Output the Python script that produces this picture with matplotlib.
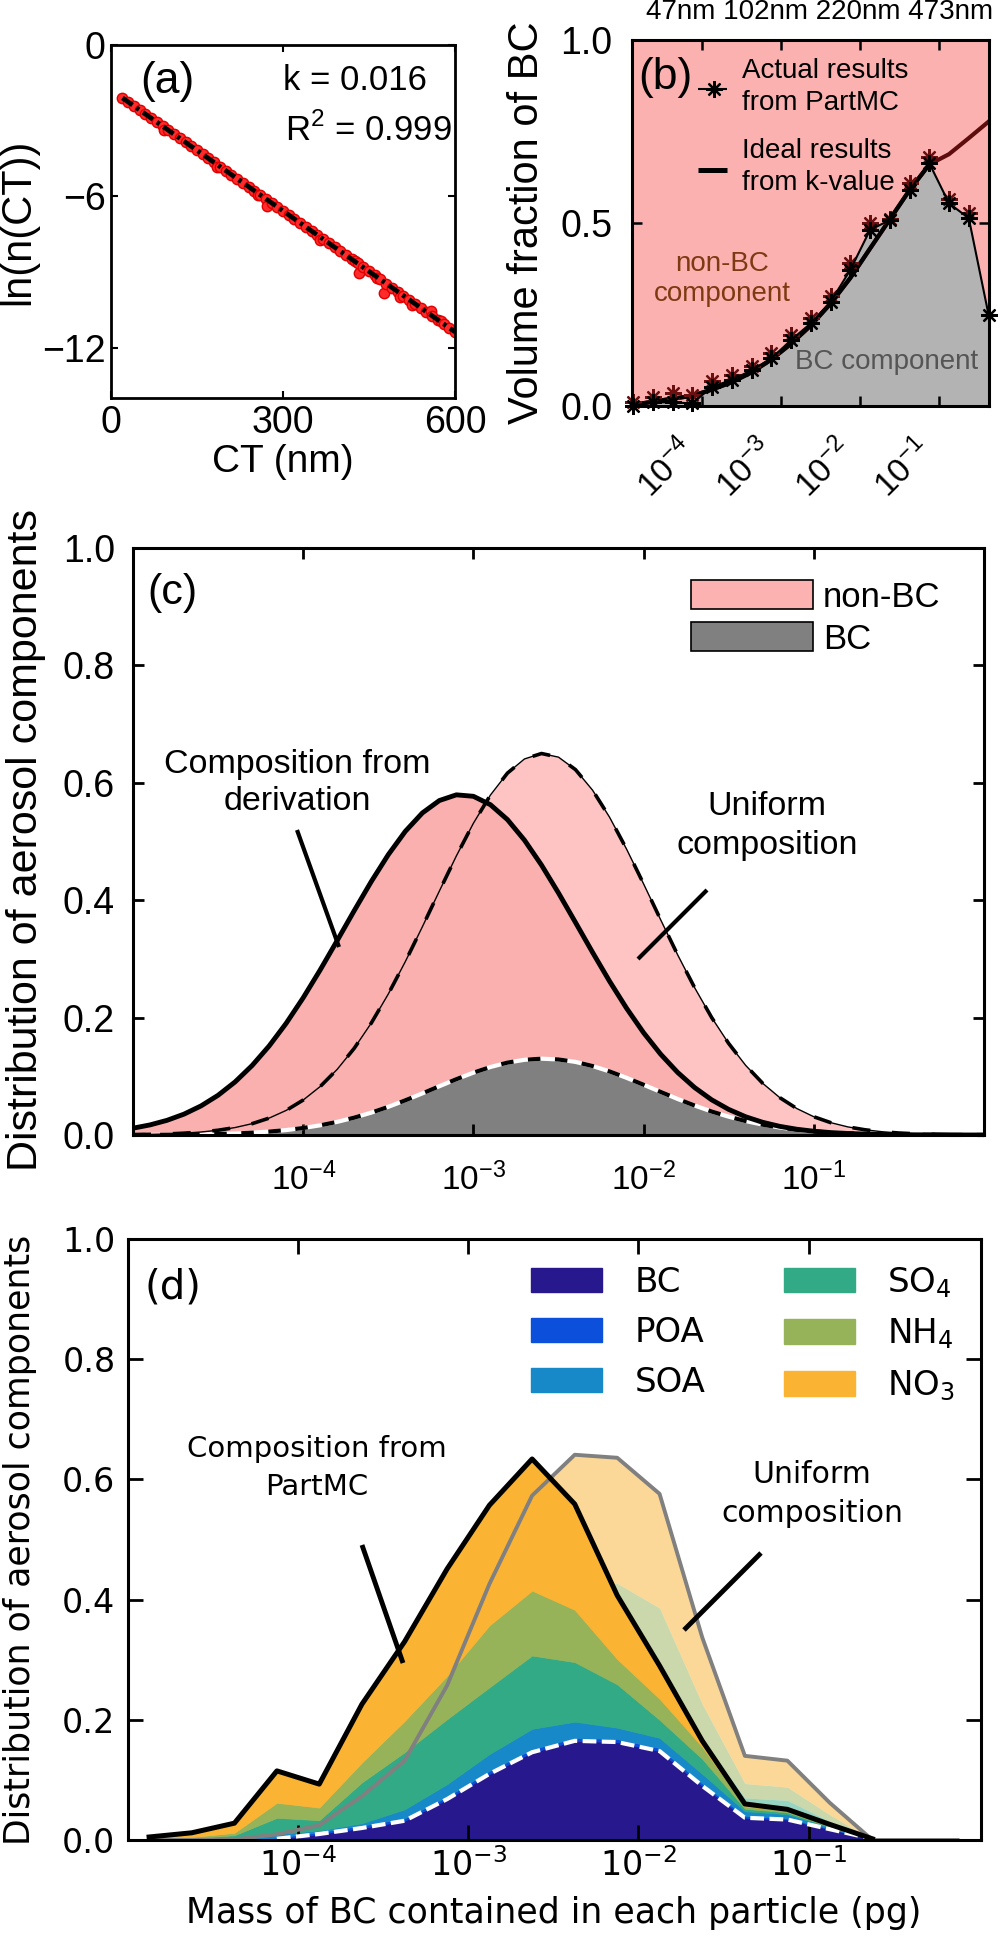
import numpy as np
import matplotlib
matplotlib.use("Agg")
import matplotlib.pyplot as plt
from matplotlib.lines import Line2D
from matplotlib.patches import Patch

plt.rcParams['font.family'] = ['Liberation Sans', 'DejaVu Sans']

W, H = 1004, 1936

# ---------------- (a) ln(n(CT)) vs CT ----------------
ct_nm = [20, 30, 40, 50, 60, 70, 80, 90, 92, 100, 110, 120, 130, 140, 150, 160, 170,
         180, 185, 190, 200, 210, 220, 230, 240, 250, 257, 260, 270, 272, 280, 290, 300,
         310, 320, 330, 340, 350, 360, 365, 370, 380, 390, 400, 410, 420, 425, 430, 433,
         440, 450, 460, 464, 470, 476, 480, 490, 500, 504, 510, 520, 525, 530, 540, 550,
         558, 560, 570, 575, 580, 590, 600]
ln_n = [-2.10, -2.26, -2.42, -2.58, -2.74, -2.90, -3.06, -3.22, -3.38, -3.38, -3.54,
        -3.70, -3.86, -4.02, -4.18, -4.34, -4.50, -4.66, -4.84, -4.82, -4.98, -5.14,
        -5.30, -5.46, -5.62, -5.78, -5.96, -5.94, -6.10, -6.38, -6.26, -6.42, -6.58,
        -6.74, -6.90, -7.06, -7.22, -7.38, -7.54, -7.74, -7.70, -7.86, -8.02, -8.18,
        -8.34, -8.50, -8.56, -8.66, -9.04, -8.82, -8.98, -9.14, -9.24, -9.30, -9.84,
        -9.46, -9.62, -9.78, -9.98, -9.94, -10.10, -10.32, -10.26, -10.42, -10.58,
        -10.54, -10.74, -10.90, -10.95, -11.06, -11.22, -11.38]
fit_ct = [20, 600]
fit_ln = [-2.10, -11.38]

# ---------------- (b)/(d) BC mass bins (pg) ----------------
mass_bins = [1.33e-5, 2.37e-5, 4.22e-5, 7.50e-5, 1.33e-4, 2.37e-4, 4.22e-4, 7.50e-4,
             1.33e-3, 2.37e-3, 4.22e-3, 7.50e-3, 1.33e-2, 2.37e-2, 4.22e-2, 7.50e-2,
             1.33e-1, 2.37e-1, 4.22e-1, 7.50e-1]

# (b) volume fraction of BC
vf_actual = [0.0, 0.010, 0.010, 0.007, 0.053, 0.071, 0.098, 0.130, 0.180, 0.226,
             0.285, 0.372, 0.481, 0.508, 0.590, 0.663, 0.554, 0.513, 0.249]
vf_actual_red = [0.010, 0.025, 0.035, 0.030, 0.068, 0.085, 0.110, 0.146, 0.195, 0.240,
                 0.300, 0.390, 0.500, 0.512, 0.610, 0.680, 0.566, 0.526]
vf_ideal = [0.003, 0.012, 0.020, 0.028, 0.045, 0.065, 0.092, 0.127, 0.170, 0.220,
            0.280, 0.350, 0.430, 0.510, 0.590, 0.660, 0.688, 0.732, 0.777]

# ---------------- (c) derived vs uniform ----------------
logm_c = [-5.0, -4.9, -4.8, -4.7, -4.6, -4.5, -4.4, -4.3, -4.2, -4.1,
          -4.0, -3.9, -3.8, -3.7, -3.6, -3.5, -3.4, -3.3, -3.2, -3.1,
          -3.0, -2.9, -2.8, -2.7, -2.6, -2.5, -2.4, -2.3, -2.2, -2.1,
          -2.0, -1.9, -1.8, -1.7, -1.6, -1.5, -1.4, -1.3, -1.2, -1.1,
          -1.0, -0.9, -0.8, -0.7, -0.6, -0.5, -0.4, -0.3, -0.2, -0.1, 0.0]
dist_derived = [0.0116, 0.0172, 0.0250, 0.0356, 0.0496, 0.0677, 0.0905, 0.1184, 0.1517, 0.1903,
                0.2338, 0.2813, 0.3314, 0.3823, 0.4318, 0.4776, 0.5173, 0.5486, 0.5698, 0.5795,
                0.5770, 0.5627, 0.5373, 0.5023, 0.4599, 0.4123, 0.3620, 0.3112, 0.2619, 0.2159,
                0.1742, 0.1377, 0.1066, 0.0808, 0.0599, 0.0436, 0.0310, 0.0216, 0.0147, 0.0098,
                0.0064, 0.0041, 0.0026, 0.0016, 0.0009, 0.0005, 0.0003, 0.0002, 0.0001, 0.0, 0.0]
dist_uniform = [0.0006, 0.0011, 0.0018, 0.0031, 0.0051, 0.0081, 0.0127, 0.0193, 0.0288, 0.0419,
                0.0596, 0.0826, 0.1119, 0.1478, 0.1907, 0.2402, 0.2954, 0.3546, 0.4156, 0.4755,
                0.5311, 0.5791, 0.6165, 0.6406, 0.6499, 0.6437, 0.6224, 0.5875, 0.5414, 0.4870,
                0.4278, 0.3668, 0.3070, 0.2509, 0.2001, 0.1559, 0.1185, 0.0880, 0.0637, 0.0451,
                0.0311, 0.0210, 0.0138, 0.0089, 0.0056, 0.0034, 0.0020, 0.0011, 0.0006, 0.0003, 0.0002]
dist_bc_uniform = [0.0001, 0.0002, 0.0004, 0.0006, 0.0010, 0.0016, 0.0025, 0.0039, 0.0058, 0.0084,
                   0.0119, 0.0165, 0.0224, 0.0296, 0.0381, 0.0480, 0.0591, 0.0709, 0.0831, 0.0951,
                   0.1062, 0.1158, 0.1233, 0.1281, 0.1300, 0.1287, 0.1245, 0.1175, 0.1083, 0.0974,
                   0.0856, 0.0734, 0.0614, 0.0502, 0.0400, 0.0312, 0.0237, 0.0176, 0.0127, 0.0090,
                   0.0062, 0.0042, 0.0028, 0.0018, 0.0011, 0.0007, 0.0004, 0.0002, 0.0001, 0.0001, 0.0]

# ---------------- (d) PartMC components ----------------
d_bc  = [0.0, 0.0, 0.0, 0.002, 0.010, 0.020, 0.032, 0.068, 0.110, 0.146,
         0.165, 0.163, 0.148, 0.090, 0.037, 0.034, 0.018, 0.002, 0.0, 0.0]
d_poa = [0.0, 0.0, 0.0, 0.002, 0.003, 0.004, 0.004, 0.004, 0.005, 0.005,
         0.005, 0.005, 0.005, 0.004, 0.003, 0.002, 0.001, 0.0, 0.0, 0.0]
d_soa = [0.0, 0.001, 0.003, 0.006, 0.003, 0.004, 0.015, 0.021, 0.028, 0.034,
         0.027, 0.019, 0.017, 0.016, 0.008, 0.007, 0.002, 0.0, 0.0, 0.0]
d_so4 = [0.001, 0.002, 0.005, 0.027, 0.017, 0.068, 0.095, 0.108, 0.111, 0.122,
         0.099, 0.072, 0.030, 0.025, 0.004, 0.003, 0.001, 0.0, 0.0, 0.0]
d_nh4 = [0.001, 0.002, 0.004, 0.025, 0.021, 0.033, 0.052, 0.072, 0.103, 0.108,
         0.087, 0.042, 0.035, 0.020, 0.004, 0.003, 0.002, 0.0, 0.0, 0.0]
d_no3 = [0.003, 0.007, 0.016, 0.053, 0.039, 0.097, 0.132, 0.178, 0.200, 0.219,
         0.176, 0.106, 0.055, 0.010, 0.004, 0.002, 0.002, 0.0, 0.0, 0.0]
d_total = [0.005, 0.012, 0.028, 0.115, 0.093, 0.226, 0.330, 0.451, 0.557, 0.634,
           0.559, 0.407, 0.290, 0.165, 0.060, 0.051, 0.026, 0.002]
# uniform composition (total and cumulative tops)
u_total   = [0.0, 0.0, 0.001, 0.0095, 0.0245, 0.073, 0.132, 0.257, 0.426, 0.573,
             0.641, 0.636, 0.576, 0.337, 0.140, 0.132, 0.062, 0.0, 0.0, 0.0]
u_nh4_top = [0.0, 0.0, 0.001, 0.006, 0.016, 0.049, 0.088, 0.172, 0.285, 0.384,
             0.430, 0.427, 0.386, 0.226, 0.094, 0.088, 0.042, 0.0, 0.0, 0.0]
u_so4_top = [0.0, 0.0, 0.0005, 0.005, 0.012, 0.036, 0.066, 0.128, 0.213, 0.286,
             0.320, 0.318, 0.288, 0.168, 0.070, 0.066, 0.031, 0.0, 0.0, 0.0]

comp_names = ['BC', 'POA', 'SOA', r'SO$_4$', r'NH$_4$', r'NO$_3$']
comp_colors = ['#27198d', '#0b4fdb', '#1889c8', '#32aa86', '#96b359', '#fab333']


def box(l, t, r, b):
    return [l / W, 1 - b / H, (r - l) / W, (b - t) / H]

def fx(x):
    return x / W

def fy(y):
    return 1 - y / H

def seg(x1, y1, x2, y2, lw):
    fig.add_artist(Line2D([fx(x1), fx(x2)], [fy(y1), fy(y2)], color='k', lw=lw,
                          solid_capstyle='butt'))


fig = plt.figure(figsize=(W / 100, H / 100), dpi=100)
star = (8, 2, 0)

# ---------- (a) ----------
axa = fig.add_axes(box(111, 45, 455, 398))
axa.plot(ct_nm, ln_n, 'o', ms=7.5, mfc='#ff2a2a', mec='#e00000', mew=1, zorder=2)
axa.plot(fit_ct, fit_ln, color='k', lw=3.4, dashes=(2.6, 1.0, 0.7, 1.0), zorder=3)
axa.set_xlim(0, 600)
axa.set_ylim(-14, 0)
axa.set_xticks([0, 300, 600])
axa.set_yticks([0, -6, -12])
axa.tick_params(direction='in', top=True, right=True, length=5, width=1.5,
                labelsize=27, pad=5)
axa.tick_params(axis='y', pad=4)
for s in axa.spines.values():
    s.set_linewidth(2)
fig.text(fx(167), fy(81), '(a)', fontsize=32, ha='center', va='center')
fig.text(fx(283), fy(80), 'k = 0.016', fontsize=25, ha='left', va='center')
fig.text(fx(285), fy(130), r'R$^{\mathregular{2}}$ = 0.999', fontsize=25, ha='left', va='center')
fig.text(fx(18), fy(222), 'ln(n(CT))', fontsize=30, rotation=90, ha='center', va='center')
fig.text(fx(283), fy(462), 'CT (nm)', fontsize=28, ha='center', va='center')

# ---------- (b) ----------
axb = fig.add_axes(box(632, 40, 989, 406))
axb.set_facecolor('#fcb1b1')
axb.set_xscale('log')
axb.fill_between(mass_bins[:19], vf_actual, 0, color='#b3b3b3', lw=0, zorder=1)
axb.plot(mass_bins[:19], vf_ideal, color='#5e0c0c', lw=3, zorder=2)
axb.plot(mass_bins[:16], vf_ideal[:16], color='k', lw=3, zorder=3)
axb.plot(mass_bins[:18], vf_actual_red, ls='none', marker=star, ms=12, mec='#6b1010',
         mew=1.6, zorder=4, clip_on=False)
axb.plot(mass_bins[:19], vf_actual, color='k', lw=1.5, marker=star, ms=12, mec='k',
         mew=1.6, zorder=5, clip_on=False)
axb.set_xlim(1.29e-5, 0.427)
axb.set_ylim(0, 1)
axb.minorticks_off()
axb.set_xticks([1e-4, 1e-3, 1e-2, 1e-1])
axb.set_xticklabels([r'$\mathregular{10^{-4}}$', r'$\mathregular{10^{-3}}$',
                     r'$\mathregular{10^{-2}}$', r'$\mathregular{10^{-1}}$'],
                    rotation=45, ha='right')
axb.set_yticks([0, 0.5, 1.0])
axb.tick_params(direction='in', top=True, right=True, length=7, width=1.8, labelsize=27)
axb.tick_params(axis='y', pad=14)
axb.tick_params(axis='x', labelsize=24, pad=20)
for s in axb.spines.values():
    s.set_linewidth(2.2)
    s.set_zorder(6)
seg(698, 89, 727, 89, 1.5)
fig.add_artist(Line2D([fx(714)], [fy(89)], marker=star, ms=12, mec='k', mew=1.6, ls='none'))
seg(698, 170, 727, 170, 3.6)
fig.text(fx(742), fy(87), 'Actual results\nfrom PartMC', fontsize=20, ha='left', va='center',
         linespacing=1.25)
fig.text(fx(742), fy(167), 'Ideal results\nfrom k-value', fontsize=20, ha='left', va='center',
         linespacing=1.25)
fig.text(fx(665), fy(78), '(b)', fontsize=32, ha='center', va='center')
fig.text(fx(722), fy(279), 'non-BC\ncomponent', color='#7d3a12', fontsize=20, ha='center',
         va='center', linespacing=1.2)
fig.text(fx(978), fy(362), 'BC component', color='#555555', fontsize=20, ha='right', va='center')
fig.text(fx(527), fy(223), 'Volume fraction of BC', fontsize=30, rotation=90,
         ha='center', va='center')
fig.text(fx(820), fy(12), '47nm 102nm 220nm 473nm', fontsize=20, ha='center', va='center')

# ---------- (c) ----------
axc = fig.add_axes(box(133, 548, 984, 1135))
mc = np.power(10.0, logm_c)
axc.fill_between(mc, dist_uniform, 0, color='#fec4c4', lw=0, zorder=1)
axc.fill_between(mc, dist_derived, 0, color='#fbb0b0', lw=0, zorder=1.1)
axc.fill_between(mc, dist_bc_uniform, 0, color='#808080', lw=0, zorder=1.2)
axc.plot(mc, dist_uniform, color='k', lw=1.0, zorder=3)
axc.plot(mc, dist_uniform, color='k', lw=2.6, dashes=(5, 6), zorder=3)
axc.plot(mc, dist_bc_uniform, color='white', lw=3.0, zorder=2.4)
axc.plot(mc, dist_bc_uniform, color='k', lw=3.0, dashes=(3, 3.5), zorder=3.1, clip_on=False)
axc.plot(mc, dist_derived, color='k', lw=3.5, zorder=4)
axc.set_xscale('log')
axc.set_xlim(1e-5, 1)
axc.set_ylim(0, 1)
axc.minorticks_off()
axc.set_xticks([1e-4, 1e-3, 1e-2, 1e-1])
axc.set_yticks([0, 0.2, 0.4, 0.6, 0.8, 1.0])
axc.tick_params(direction='in', top=True, right=True, length=8, width=2, labelsize=27)
axc.tick_params(axis='y', pad=13)
axc.tick_params(axis='x', labelsize=24, pad=20)
for s in axc.spines.values():
    s.set_linewidth(2.2)
hc = [Patch(facecolor='#fdb2b2', edgecolor='k', lw=1.2, label='non-BC'),
      Patch(facecolor='#808080', edgecolor='k', lw=1.2, label='BC')]
axc.legend(handles=hc, loc='upper left', bbox_to_anchor=(0.656, 0.945), frameon=False,
           fontsize=25, handlelength=3.5, handleheight=0.9, handletextpad=0.3,
           labelspacing=0.25, borderpad=0, borderaxespad=0)
fig.text(fx(172), fy(593), '(c)', fontsize=31, ha='center', va='center')
fig.text(fx(297), fy(783), 'Composition from\nderivation', fontsize=24.5, ha='center',
         va='center', linespacing=1.25)
seg(297, 830, 339, 947, 3)
fig.text(fx(767), fy(826), 'Uniform\ncomposition', fontsize=24.5, ha='center',
         va='center', linespacing=1.3)
seg(707, 890, 638, 959, 3)
fig.text(fx(26), fy(840), 'Distribution of aerosol components', fontsize=31, rotation=90,
         ha='center', va='center')

# ---------- (d) ----------
axd = fig.add_axes(box(128, 1239, 981, 1840))
axd.fill_between(mass_bins, u_nh4_top, u_total, color='#fab333', alpha=0.5, lw=0)
axd.fill_between(mass_bins, u_so4_top, u_nh4_top, color='#96b359', alpha=0.5, lw=0)
axd.fill_between(mass_bins, 0, u_so4_top, color='#32aa86', alpha=0.5, lw=0)
axd.stackplot(mass_bins, d_bc, d_poa, d_soa, d_so4, d_nh4, d_no3, colors=comp_colors,
              lw=0.5, edgecolor='face')
axd.plot(mass_bins, u_total, color='#808080', lw=2.8)
axd.plot(mass_bins[3:18], d_bc[3:18], color='white', lw=3.0, dashes=(3.3, 1.3))
axd.plot(mass_bins[:18], d_total, color='k', lw=3.6)
axd.set_xscale('log')
axd.set_xlim(1e-5, 1.03)
axd.set_ylim(0, 1)
axd.minorticks_off()
axd.set_xticks([1e-4, 1e-3, 1e-2, 1e-1])
axd.set_yticks([0, 0.2, 0.4, 0.6, 0.8, 1.0])
axd.tick_params(direction='in', top=True, right=True, length=11, width=2, labelsize=24,
                labelfontfamily='DejaVu Sans')
axd.tick_params(axis='y', pad=9)
axd.tick_params(axis='x', pad=6)
for s in axd.spines.values():
    s.set_linewidth(2.2)
hd = [Patch(facecolor=c, edgecolor=c, label=n) for n, c in zip(comp_names, comp_colors)]
axd.legend(handles=hd, ncol=2, loc='upper left', bbox_to_anchor=(0.472, 0.957),
           frameon=False, prop={'family': 'DejaVu Sans', 'size': 24.5},
           handlelength=2.1, handleheight=0.75, handletextpad=0.95, columnspacing=2.3,
           labelspacing=0.5, borderpad=0, borderaxespad=0)
fig.text(fx(173), fy(1288), '(d)', fontsize=29, ha='center', va='center', family='DejaVu Sans')
fig.text(fx(317), fy(1468), 'Composition from\nPartMC', fontsize=21, ha='center',
         va='center', family='DejaVu Sans', linespacing=1.45)
seg(362, 1545, 403, 1663, 3.5)
fig.text(fx(812), fy(1494), 'Uniform\ncomposition', fontsize=21.5, ha='center',
         va='center', family='DejaVu Sans', linespacing=1.45)
seg(761, 1553, 684, 1630, 3.5)
fig.text(fx(554), fy(1913), 'Mass of BC contained in each particle (pg)', fontsize=25,
         ha='center', va='center', family='DejaVu Sans')
fig.text(fx(20), fy(1540), 'Distribution of aerosol components', fontsize=25, rotation=90,
         ha='center', va='center', family='DejaVu Sans')

fig.savefig('out.png', dpi=100)
